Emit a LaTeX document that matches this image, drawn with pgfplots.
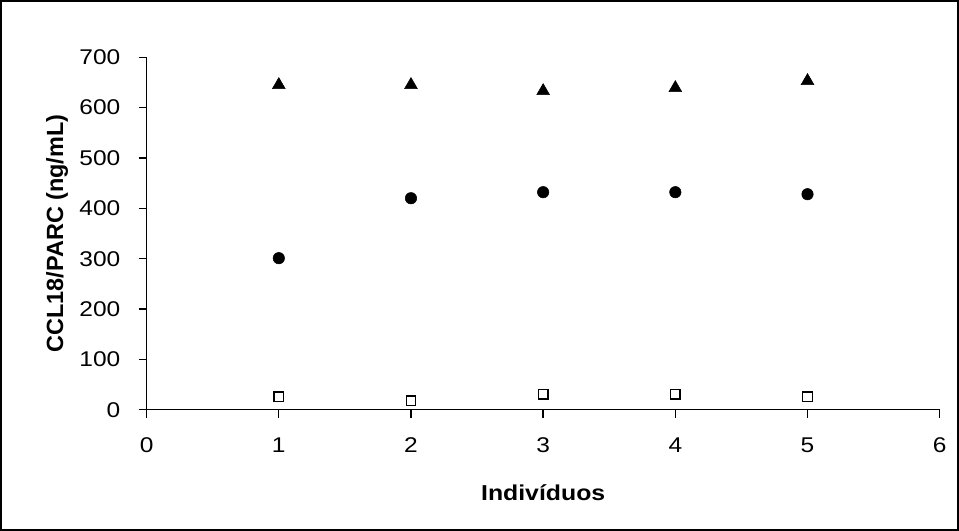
\documentclass[border=0pt]{standalone}
\usepackage{fontspec}
\setmainfont{Liberation Sans}[FakeStretch=1.15]
\newfontfamily\plainsans{Liberation Sans}
\usepackage{pgfplots}
\pgfplotsset{compat=1.18}

\begin{document}
\begin{tikzpicture}
\begin{axis}[
    scale only axis,
    width=595.5pt, height=264.75pt,
    xmin=0, xmax=6, ymin=0, ymax=700,
    xtick={0,1,...,6}, ytick={0,100,...,700},
    axis lines=left, axis line style={-, line width=1pt},
    tick align=outside, major tick length=6pt,
    tick style={line width=1pt, black},
    /pgf/number format/assume math mode=true,
    tick label style={font=\fontsize{16}{18}\selectfont},
    xticklabel style={yshift=-11.5pt},
    yticklabel style={xshift=-10.25pt},
    xlabel={\textbf{Indivíduos}},
    ylabel={\plainsans\bfseries CCL18/PARC (ng/mL)},
    xlabel style={font=\fontsize{16.2}{18}\selectfont,
        at={(axis description cs:0.5,-0.235)}, anchor=center},
    ylabel style={font=\fontsize{17.6}{20}\selectfont,
        at={(axis description cs:-0.113,0.5)}, anchor=center},
    clip=false,
]
\addplot[only marks, mark=triangle*, mark size=5.5pt, black] coordinates {
    (1,645) (2,645) (3,633) (4,639) (5,653)};
\addplot[only marks, mark=*, mark size=4.3pt, black] coordinates {
    (1,301) (2,420) (3,432) (4,432) (5,428)};
\addplot[only marks, mark=square, mark size=3.6pt, black, line width=1pt] coordinates {
    (1,26) (2,18) (3,31) (4,31) (5,26)};
\end{axis}
\draw[line width=1.2pt] (-109.5pt,-90.4pt) rectangle (609.4pt,307.1pt);
\end{tikzpicture}
\end{document}
